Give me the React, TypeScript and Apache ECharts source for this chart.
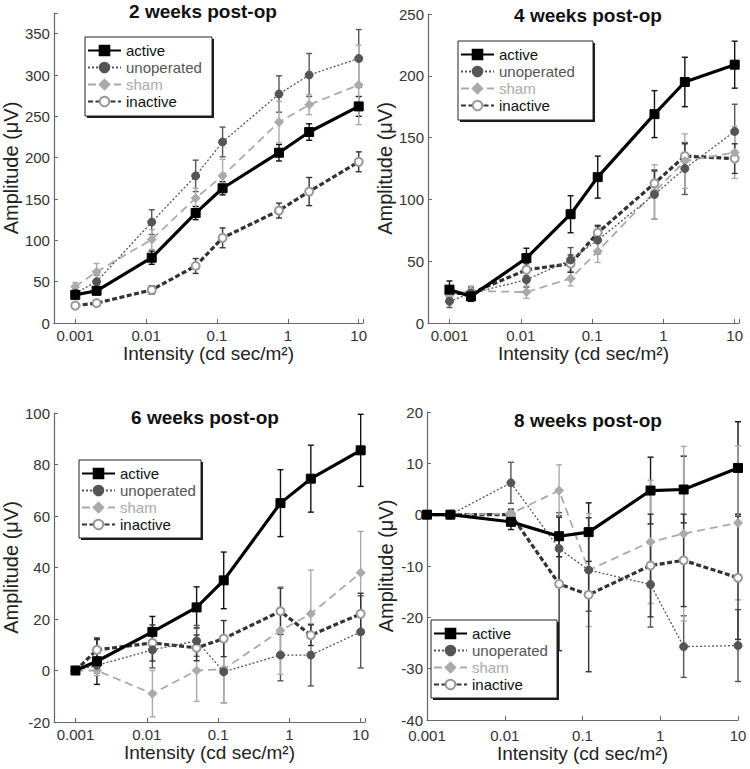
import React, { useEffect, useRef } from "react";
import * as echarts from "echarts";

// Stimulus intensities (cd sec/m^2)
const X = [0.001, 0.002, 0.012, 0.05, 0.12, 0.75, 2, 10];
const GROUPS = ["active", "unoperated", "sham", "inactive"];
const TITLES = ["2 weeks post-op", "4 weeks post-op", "6 weeks post-op", "8 weeks post-op"];

// 2 weeks
const w2Active = [34, 39, 79, 133, 163, 206, 231, 262];
const w2ActiveErr = [4, 5, 8, 8, 8, 10, 10, 12];
const w2Unop = [36, 50, 122, 178, 219, 277, 300, 320];
const w2UnopErr = [4, 8, 15, 19, 18, 22, 26, 35];
const w2Sham = [44, 62, 101, 151, 178, 243, 264, 288];
const w2ShamErr = [5, 10, 12, 12, 20, 25, 12, 48];
const w2Inact = [21, 24, 40, 69, 103, 136, 159, 195];
const w2InactErr = [3, 3, 5, 9, 12, 9, 17, 12];

// 4 weeks
const w4Active = [27, 21.5, 52.5, 88, 118, 169, 195, 209];
const w4ActiveErr = [7, 4, 8, 15, 17, 19, 20, 19];
const w4Unop = [17.5, 24, 35, 51, 67, 104, 125, 155];
const w4UnopErr = [5, 5, 6, 10, 11, 20, 21, 22];
const w4Sham = [23, 26, 25, 36, 58, 106, 131, 138];
const w4ShamErr = [4, 4, 5, 6, 9, 22, 22, 21];
const w4Inact = [24, 24, 43, 48, 73, 113, 135, 133];
const w4InactErr = [4, 4, 5, 7, 6, 10, 10, 12];

// 6 weeks
const w6Active = [0, 3.6, 15, 24.5, 35, 65, 74.5, 85.5];
const w6ActiveErr = [0, 9, 6, 8, 11, 13, 13, 14];
const w6Unop = [0, 2, 8, 11.5, -0.5, 6, 6, 15];
const w6UnopErr = [0, 3, 7, 6, 12, 10, 12, 14];
const w6Sham = [0, 0, -9, 0, 0.5, 15.5, 22, 38];
const w6ShamErr = [0, 2, 9, 12, 13, 17, 17, 16];
const w6Inact = [0, 8, 10.7, 8.8, 12.4, 23, 13.7, 22];
const w6InactErr = [0, 4, 7, 5, 7, 9, 4, 8];

// 8 weeks
const w8Active = [0, 0, -1.4, -4.2, -3.4, 4.7, 4.9, 9.1];
const w8ActiveErr = [0, 0, 1.5, 4, 5.7, 6.5, 6.5, 9];
const w8Unop = [0, 0, 6.2, -6.6, -10.8, -13.6, -25.7, -25.5];
const w8UnopErr = [0, 0, 4, 7, 8, 8.3, 6, 7];
const w8Sham = [0, 0, 0.2, 4.7, -10.8, -5.3, -3.7, -1.6];
const w8ShamErr = [0, 0, 1, 5, 11, 12, 17, 15];
const w8Inact = [0, 0, 0, -13.5, -15.6, -9.9, -8.9, -12.3];
const w8InactErr = [0, 0, 1, 13, 15, 10, 9, 12];

const VALUES = [
  [w2Active, w2Unop, w2Sham, w2Inact],
  [w4Active, w4Unop, w4Sham, w4Inact],
  [w6Active, w6Unop, w6Sham, w6Inact],
  [w8Active, w8Unop, w8Sham, w8Inact],
];
const ERRORS = [
  [w2ActiveErr, w2UnopErr, w2ShamErr, w2InactErr],
  [w4ActiveErr, w4UnopErr, w4ShamErr, w4InactErr],
  [w6ActiveErr, w6UnopErr, w6ShamErr, w6InactErr],
  [w8ActiveErr, w8UnopErr, w8ShamErr, w8InactErr],
];
const Y_MIN = [0, 0, -20, -40];
const Y_MAX = [375, 250, 100, 20];
const Y_STEP = [50, 50, 20, 10];
const X_MIN = [0.0005, 0.0005, 0.0005, 0.001];
const X_MAX = [11.5, 11.5, 11.5, 10];

// layout
const GRIDS = [
  { left: 53, top: 13, width: 310, height: 310 },
  { left: 428, top: 14, width: 311, height: 309 },
  { left: 54, top: 413, width: 311, height: 309 },
  { left: 427, top: 412, width: 311, height: 308 },
];
const TITLE_POS = [
  [203, 11],
  [588, 15],
  [205, 417],
  [588, 420],
];
// legend boxes: x, y, w, h
const LEGEND_BOX = [
  [85, 37, 127, 79],
  [458, 41, 135, 79],
  [79, 460, 122, 78],
  [431, 620, 126, 78],
];
const X_LABEL_MARGIN = [5, 5, 5, 8];

const FONT = "'Liberation Sans', Arial, Helvetica, sans-serif";

const STYLES: Record<string, any> = {
  active: { line: "#000", type: "solid", width: 3.2, symbol: "rect", size: 9, sym: "#000", err: "#111", text: "#111" },
  unoperated: { line: "#555", type: [2, 2], width: 1.3, symbol: "circle", size: 8, sym: "#555", err: "#555", text: "#555" },
  sham: { line: "#aaa", type: [8, 5], width: 1.8, symbol: "diamond", size: 9, sym: "#aaa", err: "#aaa", text: "#aaa" },
  inactive: { line: "#333", type: [5, 2.5], width: 3.2, symbol: "emptyCircle", size: 8, sym: "#999", err: "#333", text: "#111" },
};

function fmtPow(v: number) {
  const l = Math.log10(v);
  if (Math.abs(l - Math.round(l)) > 1e-6) return "";
  const r = Math.round(l);
  if (r < -3 || r > 1) return "";
  return String(Number(Math.pow(10, r).toPrecision(1)));
}

export default function App() {
  const ref = useRef<HTMLDivElement>(null);
  useEffect(() => {
    if (!ref.current) return;
    const chart = echarts.init(ref.current, undefined, { renderer: "svg" });

    const series: any[] = [];
    VALUES.forEach((panel, p) => {
      GROUPS.forEach((g, gi) => {
        const st = STYLES[g];
        const errData = X.map((x, i) => [x, panel[gi][i] - ERRORS[p][gi][i], panel[gi][i] + ERRORS[p][gi][i], ERRORS[p][gi][i]]).filter(
          (d) => d[3] > 0
        );
        series.push({
          type: "custom",
          name: g + " error " + p,
          xAxisIndex: p,
          yAxisIndex: p,
          z: 1,
          silent: true,
          encode: { x: 0, y: [1, 2] },
          data: errData,
          renderItem: (params: any, api: any) => {
            const x = api.value(0);
            const lo = api.coord([x, api.value(1)]);
            const hi = api.coord([x, api.value(2)]);
            const w = 3;
            const style = { stroke: st.err, lineWidth: 1.4 };
            return {
              type: "group",
              children: [
                { type: "line", shape: { x1: lo[0], y1: lo[1], x2: hi[0], y2: hi[1] }, style },
                { type: "line", shape: { x1: lo[0] - w, y1: lo[1], x2: lo[0] + w, y2: lo[1] }, style },
                { type: "line", shape: { x1: hi[0] - w, y1: hi[1], x2: hi[0] + w, y2: hi[1] }, style },
              ],
            };
          },
        });
      });
      GROUPS.forEach((g, gi) => {
        const st = STYLES[g];
        series.push({
          type: "line",
          name: g,
          xAxisIndex: p,
          yAxisIndex: p,
          z: 3 + (3 - gi),
          data: X.map((x, i) => [x, panel[gi][i]]),
          symbol: st.symbol,
          symbolSize: st.size,
          showAllSymbol: true,
          lineStyle: { color: st.line, type: st.type, width: st.width },
          itemStyle: { color: st.sym, borderColor: st.sym, borderWidth: 1 },
          emphasis: { disabled: true },
        });
      });
    });

    const graphics: any[] = [];
    TITLES.forEach((t, p) => {
      graphics.push({
        type: "text",
        x: TITLE_POS[p][0],
        y: TITLE_POS[p][1],
        z: 20,
        style: {
          text: t,
          textAlign: "center",
          textVerticalAlign: "middle",
          fontSize: 19,
          fontWeight: "bold",
          fontFamily: FONT,
          fill: "#111",
        },
      });
    });
    LEGEND_BOX.forEach((b) => {
      graphics.push({
        type: "rect",
        z: 8,
        silent: true,
        shape: { x: b[0] + 2, y: b[1] + 2, width: b[2], height: b[3] },
        style: { fill: "#1a1a1a" },
      });
      graphics.push({
        type: "rect",
        z: 9,
        silent: true,
        shape: { x: b[0], y: b[1], width: b[2], height: b[3] },
        style: { fill: "#fff", stroke: "#222", lineWidth: 1 },
      });
    });

    const option: any = {
      animation: false,
      grid: GRIDS.map((g) => ({ ...g, containLabel: false })),
      xAxis: GRIDS.map((_, p) => ({
        type: "log",
        logBase: 10,
        gridIndex: p,
        min: X_MIN[p],
        max: X_MAX[p],
        name: "Intensity (cd sec/m²)",
        nameLocation: "middle",
        nameGap: 14,
        nameTextStyle: { fontSize: 19, color: "#222", fontFamily: FONT },
        axisLine: { show: true, onZero: false, lineStyle: { color: "#666", width: 1.2 } },
        axisTick: { show: true, inside: true, length: 4, lineStyle: { color: "#666" } },
        axisLabel: { formatter: fmtPow, fontSize: 15, color: "#333", fontFamily: FONT, margin: X_LABEL_MARGIN[p] },
        splitLine: { show: false },
        minorTick: { show: false },
      })),
      yAxis: GRIDS.map((_, p) => ({
        type: "value",
        gridIndex: p,
        min: Y_MIN[p],
        max: Y_MAX[p],
        interval: Y_STEP[p],
        name: "Amplitude (μV)",
        nameLocation: "middle",
        nameGap: 31,
        nameTextStyle: { fontSize: 20, color: "#222", fontFamily: FONT },
        axisLine: { show: true, onZero: false, lineStyle: { color: "#666", width: 1.2 } },
        axisTick: { show: true, inside: true, length: 4, lineStyle: { color: "#666" } },
        axisLabel: {
          fontSize: 15,
          color: "#333",
          fontFamily: FONT,
          margin: 4,
          formatter: (v: number) => (Math.abs(v / Y_STEP[p] - Math.round(v / Y_STEP[p])) < 1e-6 ? String(v) : ""),
        },
        splitLine: { show: false },
      })),
      legend: LEGEND_BOX.map((b) => ({
        orient: "vertical",
        left: b[0] + 2,
        top: b[1] + 6,
        z: 10,
        itemWidth: 33,
        itemHeight: 12,
        itemGap: 2,
        padding: 0,
        selectedMode: false,
        textStyle: { fontSize: 15, lineHeight: 15, fontFamily: FONT, color: "#111" },
        data: GROUPS.map((g) => ({ name: g, textStyle: { color: STYLES[g].text } })),
      })),
      graphic: graphics,
      series,
    };
    chart.setOption(option);
    return () => chart.dispose();
  }, []);
  return <div ref={ref} style={{ position: "absolute", left: 0, top: 0, width: 750, height: 769, background: "#fff" }} />;
}
